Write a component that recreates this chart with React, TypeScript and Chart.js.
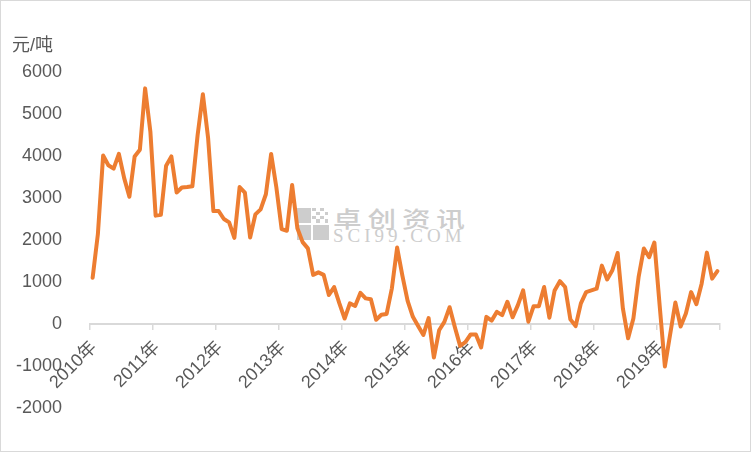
import React, { useEffect, useRef } from "react";
import { Chart, registerables } from "chart.js";

Chart.register(...registerables);

// ---- data (monthly, 元/吨) ----
const years = [2010, 2011, 2012, 2013, 2014, 2015, 2016, 2017, 2018, 2019];
const v2010 = [1100, 2140, 4010, 3780, 3700, 4050, 3480, 3030, 3990, 4150, 5610, 4580];
const v2011 = [2580, 2600, 3770, 3990, 3130, 3250, 3260, 3280, 4500, 5470, 4420, 2690];
const v2012 = [2690, 2500, 2420, 2050, 3260, 3130, 2060, 2610, 2730, 3090, 4050, 3250];
const v2013 = [2260, 2220, 3310, 2280, 1950, 1800, 1170, 1230, 1170, 690, 880, 490];
const v2014 = [130, 490, 430, 740, 610, 590, 100, 220, 240, 850, 1820, 1150];
const v2015 = [550, 170, -50, -260, 140, -800, -150, 50, 400, -80, -520, -430];
const v2016 = [-250, -250, -560, 170, 80, 290, 210, 530, 160, 450, 800, 55];
const v2017 = [425, 425, 880, 150, 800, 1020, 880, 110, -50, 490, 760, 800];
const v2018 = [840, 1390, 1060, 1280, 1690, 370, -340, 130, 1120, 1800, 1590, 1940];
const v2019 = [450, -1010, -250, 510, -60, 250, 760, 470, 960, 1700, 1080, 1260];
const yearSeries = [v2010, v2011, v2012, v2013, v2014, v2015, v2016, v2017, v2018, v2019];

const yMin = -2000;
const yMax = 6000;
const yStep = 1000;
const unitLabel = "元/吨";
const yearSuffix = "年";

const FONT = "'Liberation Sans', Arial, 'Noto Sans CJK SC', sans-serif";
const TEXT = "#595959";

export default function App() {
  const canvasRef = useRef<HTMLCanvasElement | null>(null);

  useEffect(() => {
    document.body.style.margin = "0";
    const values = yearSeries.flat();
    const points = values.map((v, i) => ({ x: i + 0.5, y: v }));
    const monthsPerYear = 12;
    const chart = new Chart(canvasRef.current as HTMLCanvasElement, {
      type: "line",
      data: {
        datasets: [
          {
            data: points,
            borderColor: "#ED7D31",
            backgroundColor: "#ED7D31",
            borderWidth: 4,
            pointRadius: 0,
            tension: 0,
            borderJoinStyle: "round",
            borderCapStyle: "round",
          },
        ],
      },
      options: {
        animation: false,
        responsive: false,
        maintainAspectRatio: false,
        layout: { padding: { left: 12, top: 30, right: 31, bottom: 44 } },
        plugins: {
          legend: { display: false },
          tooltip: { enabled: false },
          title: {
            display: true,
            text: unitLabel,
            align: "start",
            color: TEXT,
            font: { size: 18, family: FONT, weight: "normal" },
            padding: { top: 5, bottom: 15.4 },
          },
        },
        scales: {
          x: {
            type: "linear",
            min: 0,
            max: years.length * monthsPerYear,
            position: { y: 0 },
            grid: {
              drawOnChartArea: false,
              drawTicks: true,
              tickLength: 5,
              color: "#d9d9d9",
              lineWidth: 1.5,
            },
            border: { display: true, color: "#d9d9d9", width: 2 },
            ticks: {
              stepSize: monthsPerYear,
              autoSkip: false,
              maxRotation: 45,
              minRotation: 45,
              labelOffset: 4,
              padding: 8,
              color: TEXT,
              font: { size: 18, family: FONT },
              callback: (v: any) => {
                const idx = Math.round(Number(v) / monthsPerYear);
                return idx < years.length ? years[idx] + yearSuffix : "";
              },
            },
          },
          y: {
            min: yMin,
            max: yMax,
            grid: { display: false },
            border: { display: false },
            ticks: {
              stepSize: yStep,
              padding: 20,
              color: TEXT,
              font: { size: 18, family: FONT },
              callback: (v: any) => String(v),
            },
            afterFit: (s: any) => {
              s.width = 78;
            },
          },
        },
      },
    } as any);
    return () => chart.destroy();
  }, []);

  const wm = "#cdcdcd";
  const checker: React.ReactNode[] = [];
  for (let r = 0; r < 4; r++) {
    for (let c = 0; c < 4; c++) {
      if ((r + c) % 2 === 0) {
        checker.push(
          <div
            key={`${r}-${c}`}
            style={{ position: "absolute", left: 312 + c * 4.2, top: 208 + r * 3.8, width: 3.6, height: 3.4, background: wm }}
          />
        );
      }
    }
  }

  return (
    <div
      style={{
        position: "fixed",
        left: 0,
        top: 0,
        width: 751,
        height: 452,
        boxSizing: "border-box",
        border: "1px solid #d9d9d9",
        background: "#ffffff",
        overflow: "hidden",
      }}
    >
      <div style={{ position: "absolute", left: -1, top: -1, width: 751, height: 452 }}>
        <div style={{ position: "absolute", left: 297, top: 208, width: 14, height: 15, background: wm }} />
        {checker}
        <div style={{ position: "absolute", left: 297, top: 225, width: 14, height: 15, background: wm }} />
        <div style={{ position: "absolute", left: 313, top: 225, width: 16, height: 15, background: wm }} />
        <div
          style={{
            position: "absolute",
            left: 333,
            top: 203,
            fontFamily: "'Noto Sans CJK SC', sans-serif",
            fontSize: 22,
            fontWeight: 500,
            lineHeight: "28px",
            letterSpacing: 4.5,
            color: wm,
            whiteSpace: "nowrap",
            transform: "scaleX(1.3)",
            transformOrigin: "left top",
          }}
        >
          卓创资讯
        </div>
        <div
          style={{
            position: "absolute",
            left: 333,
            top: 226,
            fontFamily: "'Liberation Serif', serif",
            fontSize: 19,
            lineHeight: "20px",
            letterSpacing: 4,
            color: wm,
            whiteSpace: "nowrap",
          }}
        >
          SCI99.COM
        </div>
        <canvas
          ref={canvasRef}
          width={751}
          height={452}
          style={{ position: "absolute", left: 0, top: 0, width: 751, height: 452 }}
        />
      </div>
    </div>
  );
}
